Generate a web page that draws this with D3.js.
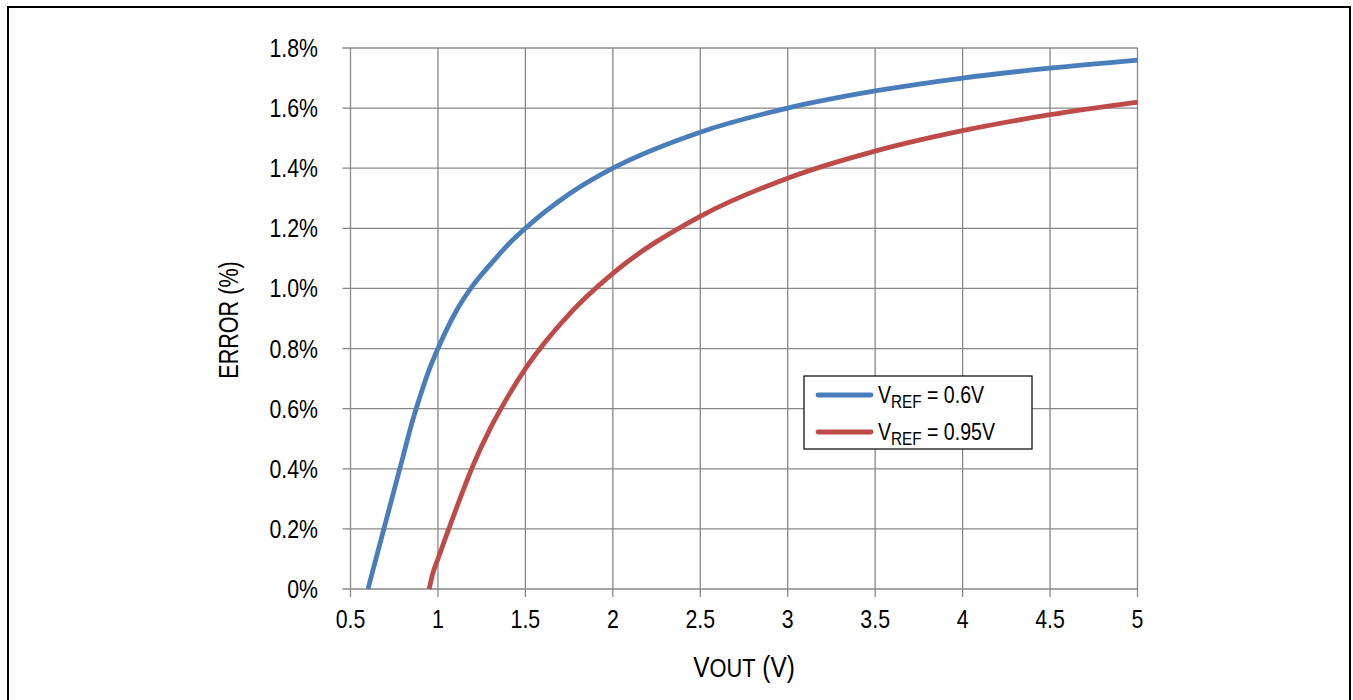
<!DOCTYPE html>
<html>

<head>
    <title>Error vs VOUT</title>
    <script src="https://d3js.org/d3.v7.min.js"></script>
    <style>
        body { margin: 0; background: #fff; }
        text { font-family: 'Liberation Sans Narrow', 'Arial Narrow', 'Liberation Sans', Arial, sans-serif; fill: #000; }
    </style>
</head>

<body>

    <svg width="1353" height="700" id="mainSvg" class="svgs"></svg>
    <script>
        // values
        const xTicks = [0.5, 1, 1.5, 2, 2.5, 3, 3.5, 4, 4.5, 5];
        const xTickLabels = ["0.5", "1", "1.5", "2", "2.5", "3", "3.5", "4", "4.5", "5"];
        const yTicks = [0, 0.2, 0.4, 0.6, 0.8, 1.0, 1.2, 1.4, 1.6, 1.8];
        const yTickLabels = ["0%", "0.2%", "0.4%", "0.6%", "0.8%", "1.0%", "1.2%", "1.4%", "1.6%", "1.8%"];

        const vout06 = [0.6, 0.7, 0.8, 0.85, 0.9, 0.95, 1.0, 1.1, 1.2, 1.3, 1.4, 1.5, 1.75, 2.0, 2.5, 3.0, 3.5, 4.0, 4.5, 5.0];
        const err06 = [0, 0.22, 0.44, 0.55, 0.645, 0.73, 0.8, 0.92, 1.01, 1.08, 1.145, 1.2, 1.314, 1.4, 1.52, 1.6, 1.657, 1.7, 1.733, 1.76];

        const vout095 = [0.95, 0.97, 1.0, 1.1, 1.2, 1.3, 1.4, 1.5, 1.75, 2.0, 2.5, 3.0, 3.5, 4.0, 4.5, 5.0];
        const err095 = [0, 0.05, 0.1, 0.26, 0.41, 0.535, 0.64, 0.733, 0.914, 1.05, 1.24, 1.367, 1.457, 1.525, 1.578, 1.62];

        const seriesNames = ["= 0.6V", "= 0.95V"];
        const seriesColors = ["#4a7ebb", "#be4b48"];

        const mainSvg = d3.select('.svgs');
        const gridColor = "#888888";
        const narrow = 0.82; // the reference uses a condensed face

        // outer frame
        mainSvg.append("rect")
            .attr("x", 8).attr("y", 7)
            .attr("width", 1342).attr("height", 700)
            .attr("fill", "none").attr("stroke", "#000").attr("stroke-width", 2);

        const x = d3.scaleLinear().domain([0.5, 5]).range([350.5, 1137.5]);
        const y = d3.scaleLinear().domain([0, 1.8]).range([589, 48]);

        const g = mainSvg.append("g").attr("id", "mainGroup");

        // grid
        g.selectAll(".vgrid").data(xTicks).join("line")
            .attr("class", "vgrid")
            .attr("x1", d => x(d)).attr("x2", d => x(d))
            .attr("y1", y(1.8)).attr("y2", y(0) + 8)
            .attr("stroke", gridColor).attr("stroke-width", 1.3);

        g.selectAll(".hgrid").data(yTicks).join("line")
            .attr("class", "hgrid")
            .attr("x1", x(0.5) - 8).attr("x2", x(5))
            .attr("y1", d => y(d)).attr("y2", d => y(d))
            .attr("stroke", gridColor).attr("stroke-width", 1.3);

        // tick labels
        g.selectAll(".xlab").data(xTicks).join("text")
            .attr("class", "xlab")
            .attr("transform", d => `translate(${x(d)},628) scale(${narrow},1)`)
            .attr("text-anchor", "middle")
            .attr("font-size", 26)
            .text((d, i) => xTickLabels[i]);

        g.selectAll(".ylab").data(yTicks).join("text")
            .attr("class", "ylab")
            .attr("transform", d => `translate(318,${y(d) + 9}) scale(${narrow},1)`)
            .attr("text-anchor", "end")
            .attr("font-size", 26)
            .text((d, i) => yTickLabels[i]);

        // axis titles
        const xt = g.append("text")
            .attr("transform", `translate(744,677) scale(0.84,1)`)
            .attr("text-anchor", "middle")
            .attr("font-size", 29);
        xt.append("tspan").text("V");
        xt.append("tspan").attr("font-size", 26).text("OUT");
        xt.append("tspan").text(" (V)");

        g.append("text")
            .attr("transform", `translate(238,320) rotate(-90) scale(0.8,1)`)
            .attr("text-anchor", "middle")
            .attr("font-size", 27)
            .text("ERROR (%)");

        // curves
        const line = d3.line()
            .x(d => x(d[0])).y(d => y(d[1]))
            .curve(d3.curveMonotoneX);

        const series = [
            d3.zip(vout06, err06),
            d3.zip(vout095, err095)
        ];

        g.selectAll(".curve").data(series).join("path")
            .attr("class", "curve")
            .attr("d", line)
            .attr("fill", "none")
            .attr("stroke", (d, i) => seriesColors[i])
            .attr("stroke-width", 4.8);

        // legend
        const legend = g.append("g").attr("transform", "translate(804,376)");
        legend.append("rect")
            .attr("width", 228).attr("height", 73)
            .attr("fill", "#fff").attr("stroke", "#000").attr("stroke-width", 1.2);

        const rows = legend.selectAll(".lrow").data(seriesNames).join("g")
            .attr("class", "lrow")
            .attr("transform", (d, i) => `translate(0,${19 + i * 37})`);

        rows.append("line")
            .attr("x1", 14).attr("x2", 67)
            .attr("stroke", (d, i) => seriesColors[i])
            .attr("stroke-width", 4.8)
            .attr("stroke-linecap", "round");

        const lt = rows.append("text")
            .attr("transform", `translate(74,8) scale(0.85,1)`)
            .attr("font-size", 23);
        lt.append("tspan").text("V");
        lt.append("tspan").attr("font-size", 18).attr("dy", 5).text("REF");
        lt.append("tspan").attr("dy", -5).text(d => " " + d);
    </script>
</body>

</html>
